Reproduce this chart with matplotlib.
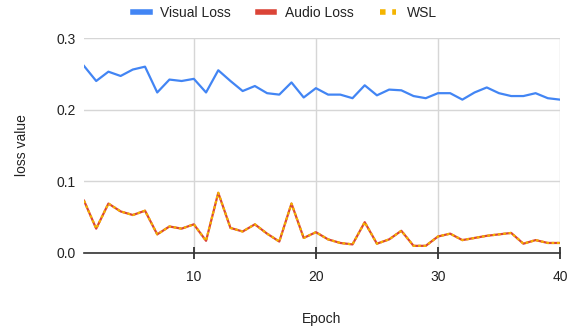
import matplotlib
matplotlib.use("Agg")
import matplotlib.pyplot as plt
from matplotlib.lines import Line2D

plt.rcParams['font.family'] = ['Liberation Sans', 'DejaVu Sans']

epochs = list(range(1, 41))
visual_loss = [0.261, 0.240, 0.253, 0.247, 0.256, 0.260, 0.224, 0.242, 0.240, 0.243,
               0.224, 0.255, 0.240, 0.226, 0.233, 0.223, 0.221, 0.238, 0.217, 0.230,
               0.221, 0.221, 0.216, 0.234, 0.220, 0.228, 0.227, 0.219, 0.216, 0.223,
               0.223, 0.214, 0.224, 0.231, 0.223, 0.219, 0.219, 0.223, 0.216, 0.214]
audio_loss = [0.073, 0.034, 0.069, 0.058, 0.053, 0.059, 0.026, 0.037, 0.034, 0.040,
              0.017, 0.084, 0.035, 0.030, 0.040, 0.027, 0.016, 0.069, 0.021, 0.029,
              0.019, 0.014, 0.012, 0.043, 0.013, 0.019, 0.031, 0.010, 0.010, 0.023,
              0.027, 0.018, 0.021, 0.024, 0.026, 0.028, 0.013, 0.018, 0.014, 0.014]
wsl = audio_loss[:]

x_ticks = [10, 20, 30, 40]
y_ticks = [0.0, 0.1, 0.2, 0.3]
y_ticklabels = ["0.0", "0.1", "0.2", "0.3"]

BLUE = "#4285F4"
RED = "#DB4437"
YELLOW = "#F4B400"
GRID = "#d6d6d6"
TEXT = "#222222"

fig = plt.figure(figsize=(5.76, 3.28), dpi=100)
ax = fig.add_axes([84/576, 75/328, 476/576, 215/328])

ax.plot(epochs, visual_loss, color=BLUE, lw=1.6, solid_joinstyle='round', zorder=3)
ax.plot(epochs, audio_loss, color=RED, lw=1.6, zorder=3)
ax.plot(epochs, wsl, color=YELLOW, lw=1.6, dashes=(1.2, 1.2), zorder=4)

ax.set_xlim(1, 40)
ax.set_ylim(0, 0.3)
ax.set_xticks(x_ticks)
ax.set_yticks(y_ticks)
ax.set_yticklabels(y_ticklabels)
ax.grid(True, color=GRID, lw=1)
ax.set_axisbelow(True)
for s in ['top', 'right', 'left']:
    ax.spines[s].set_visible(False)
ax.spines['bottom'].set_color('#333333')
ax.spines['bottom'].set_linewidth(1.2)
ax.spines['bottom'].set_zorder(5)
ax.tick_params(axis='y', length=0, pad=6, labelsize=10, labelcolor=TEXT)
ax.tick_params(axis='x', direction='inout', length=9, width=1.3, color='#333333',
               pad=8, labelsize=10, labelcolor=TEXT)

ax.set_xlabel("Epoch", fontsize=10, color=TEXT, labelpad=20)
ax.set_ylabel("loss value", fontsize=10, color=TEXT, labelpad=20)

handles = [Line2D([], [], color=BLUE, lw=4),
           Line2D([], [], color=RED, lw=4),
           Line2D([], [], color=YELLOW, lw=4, dashes=(1, 1.2))]
fig.legend(handles, ["Visual Loss", "Audio Loss", "WSL"], loc='upper center',
           bbox_to_anchor=(0.495, 1.02), ncol=3, frameon=False, fontsize=10,
           handlelength=1.2, handletextpad=0.75, columnspacing=1.9,
           labelcolor=TEXT)

fig.savefig("out.png", dpi=100)
